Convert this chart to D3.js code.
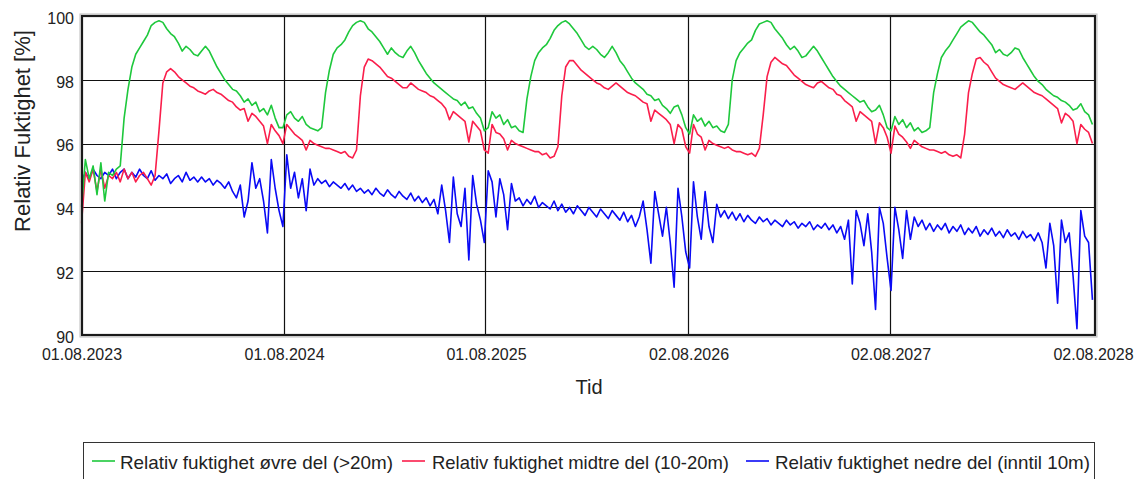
<!DOCTYPE html>
<html>
<head>
<meta charset="utf-8">
<script src="https://cdn.jsdelivr.net/npm/d3@7"></script>
<style>
body { margin: 0; background: #fff; }
text { font-family: "Liberation Sans", Arial, sans-serif; fill: #222; }
</style>
</head>
<body>
<div id="chart"></div>
<script>
// weekly readings from 01.08.2023
var startDate = "2023-08-01", stepDays = 7;

var green = [
  94.0,95.5,94.9,95.3,94.4,95.4,94.2,95.1,95.0,95.2,95.3,96.8,97.7,98.4,98.8,99.0,99.2,99.4,99.7,99.8,99.85,99.8,99.6,99.45,99.35,99.15,98.9,99.05,98.95,98.8,98.75,98.9,99.05,98.9,98.65,98.4,98.2,98.0,97.85,97.7,97.65,97.5,97.3,97.4,97.2,97.3,97.0,97.1,96.9,97.2,96.8,96.5,
  96.5,96.9,97.0,96.8,96.7,96.85,96.6,96.5,96.45,96.4,96.5,97.6,98.3,98.8,99.0,99.1,99.25,99.5,99.7,99.8,99.85,99.8,99.6,99.5,99.35,99.2,99.0,98.8,99.0,98.85,98.75,98.7,98.9,99.05,98.85,98.6,98.4,98.2,98.05,97.9,97.8,97.7,97.6,97.5,97.4,97.35,97.2,97.3,97.1,97.15,96.95,96.8,
  96.4,96.5,97.0,96.8,96.9,96.6,96.75,96.5,96.55,96.4,96.35,97.4,98.1,98.6,98.85,99.0,99.1,99.3,99.55,99.7,99.8,99.85,99.75,99.6,99.45,99.25,99.05,98.95,99.05,98.95,98.8,98.7,98.85,99.05,98.85,98.6,98.45,98.25,98.05,97.9,97.8,97.7,97.55,97.5,97.35,97.4,97.2,97.1,96.95,97.15,97.2,96.9,96.5,
  96.3,96.9,96.7,96.8,96.55,96.7,96.5,96.55,96.4,96.35,96.6,98.0,98.6,98.85,99.0,99.15,99.25,99.55,99.75,99.8,99.85,99.8,99.6,99.45,99.3,99.1,98.95,99.05,98.9,98.7,98.75,98.9,99.05,98.9,98.7,98.5,98.3,98.1,97.95,97.8,97.7,97.6,97.5,97.4,97.3,97.35,97.15,97.0,97.05,97.2,96.9,96.5,
  96.4,96.85,96.6,96.75,96.5,96.65,96.4,96.5,96.35,96.4,96.5,97.6,98.2,98.7,98.9,99.05,99.25,99.45,99.65,99.75,99.85,99.8,99.65,99.5,99.4,99.25,99.1,98.85,98.95,98.8,98.75,98.85,99.0,98.95,98.7,98.5,98.3,98.1,97.95,97.85,97.7,97.6,97.5,97.45,97.35,97.3,97.2,97.05,97.1,97.25,97.0,96.9,96.6
];

var red = [
  93.5,95.1,94.8,95.2,94.5,95.2,94.6,95.0,94.9,95.1,94.8,95.2,94.9,95.1,94.8,95.0,95.1,94.9,94.7,95.0,96.4,97.9,98.25,98.35,98.25,98.1,98.0,97.9,97.8,97.75,97.65,97.6,97.55,97.65,97.7,97.6,97.55,97.45,97.35,97.3,97.15,97.05,97.1,96.7,96.95,96.85,96.7,96.55,96.0,96.6,96.4,96.25,
  96.0,96.6,96.45,96.3,96.2,96.1,95.8,96.1,96.0,95.95,95.9,95.85,95.85,95.8,95.75,95.7,95.75,95.6,95.55,95.8,97.5,98.4,98.65,98.6,98.5,98.4,98.25,98.1,98.05,97.95,97.85,97.75,97.75,97.9,97.8,97.7,97.65,97.6,97.5,97.45,97.35,97.25,97.1,96.75,97.0,96.9,96.8,96.7,96.05,96.7,96.55,96.4,
  95.8,95.7,96.6,96.35,96.3,96.15,95.8,96.1,96.0,95.95,95.9,95.85,95.8,95.75,95.75,95.65,95.7,95.55,95.6,95.9,97.5,98.4,98.6,98.6,98.45,98.3,98.2,98.1,98.0,97.9,97.85,97.75,97.7,97.8,97.9,97.8,97.7,97.6,97.55,97.5,97.4,97.3,97.25,96.7,97.05,96.95,96.85,96.75,96.6,96.0,96.6,96.45,95.9,
  95.7,96.6,96.3,96.2,95.8,96.1,96.0,95.95,95.9,95.85,95.9,95.8,95.75,95.75,95.7,95.65,95.7,95.6,95.85,96.9,98.1,98.55,98.7,98.6,98.5,98.45,98.3,98.15,98.05,97.95,97.85,97.8,97.75,97.9,97.95,97.85,97.75,97.7,97.55,97.5,97.35,97.25,97.15,96.7,97.0,96.9,96.8,96.7,96.0,96.65,96.5,96.2,
  95.7,96.55,96.3,96.2,96.05,95.85,96.1,96.0,95.9,95.85,95.8,95.8,95.75,95.7,95.75,95.65,95.6,95.65,95.55,96.3,97.6,98.2,98.65,98.7,98.55,98.45,98.25,98.05,97.95,97.85,97.8,97.75,97.7,97.8,97.9,97.8,97.7,97.6,97.55,97.5,97.4,97.3,97.2,97.1,96.65,96.95,96.85,96.7,96.0,96.6,96.45,96.35,96.0
];

var blue = [
  94.8,95.1,94.9,95.2,95.0,94.9,95.1,95.0,95.2,94.9,95.1,95.2,94.9,95.1,94.95,95.2,95.0,94.9,95.15,94.85,95.0,94.9,95.05,94.75,94.9,95.0,94.8,95.1,94.85,94.95,94.8,94.95,94.8,94.9,94.7,94.85,94.75,94.6,94.8,94.5,94.3,94.7,93.7,94.2,95.4,94.6,94.9,94.2,93.2,95.5,94.6,93.9,
  93.4,95.65,94.6,95.1,94.3,94.9,93.9,95.2,94.7,94.9,94.75,94.85,94.65,94.8,94.7,94.6,94.75,94.55,94.7,94.5,94.6,94.45,94.55,94.4,94.6,94.45,94.35,94.55,94.4,94.3,94.5,94.35,94.25,94.45,94.2,94.35,94.15,94.3,94.05,94.25,93.8,94.7,93.9,92.9,94.95,93.8,93.4,94.6,92.35,95.0,94.1,93.6,
  92.9,95.15,94.8,93.7,94.9,94.4,93.3,94.75,94.2,94.3,94.05,94.25,94.1,94.35,94.0,94.15,94.05,93.95,94.2,93.9,94.1,93.85,94.0,93.8,94.05,93.9,93.75,94.0,93.85,93.7,93.95,93.8,93.65,93.9,93.75,93.6,93.85,93.55,93.75,93.4,93.7,94.2,93.3,92.25,94.5,93.8,93.1,94.0,92.9,91.5,94.6,93.7,92.6,
  92.1,94.8,93.7,93.0,94.5,93.4,92.9,94.1,93.7,93.9,93.65,93.85,93.6,93.8,93.55,93.75,93.6,93.5,93.7,93.55,93.65,93.45,93.6,93.5,93.4,93.6,93.45,93.55,93.35,93.5,93.4,93.55,93.3,93.45,93.35,93.5,93.3,93.45,93.2,93.4,93.0,93.6,91.6,93.9,93.5,92.8,93.8,92.6,90.8,94.0,93.5,92.4,
  91.4,94.0,93.3,92.4,93.9,93.0,93.7,93.4,93.6,93.3,93.5,93.25,93.45,93.3,93.5,93.2,93.4,93.25,93.45,93.15,93.35,93.2,93.4,93.1,93.3,93.15,93.35,93.1,93.25,93.05,93.3,93.1,93.2,93.0,93.25,93.05,93.15,92.95,93.2,92.9,92.1,93.5,92.8,91.0,93.6,92.9,93.2,91.85,90.2,93.9,93.1,92.9,91.1
];

var tickDates = ["2023-08-01", "2024-08-01", "2025-08-01", "2026-08-02", "2027-08-02", "2028-08-02"];
var tickLabels = ["01.08.2023", "01.08.2024", "01.08.2025", "02.08.2026", "02.08.2027", "02.08.2028"];
var yTicks = [90, 92, 94, 96, 98, 100];

var seriesNames = ["Relativ fuktighet øvre del (>20m)", "Relativ fuktighet midtre del (10-20m)", "Relativ fuktighet nedre del (inntil 10m)"];
var seriesColors = ["#1ec83c", "#fa1e4b", "#0a0af5"];

var svgWidth = 1142, svgHeight = 479;
var plotLeft = 82, plotRight = 1095, plotTop = 16, plotBottom = 335;

var parse = d3.utcParse("%Y-%m-%d");
var t0 = parse(startDate);
function dateAt(i) { return d3.utcDay.offset(t0, i * stepDays); }

var x = d3.scaleUtc()
    .domain([parse("2023-08-01"), parse("2028-08-02")])
    .range([81.5, 1093]);
var y = d3.scaleLinear().domain([90, 100]).range([plotBottom, plotTop]);

var svg = d3.select('#chart').append('svg')
    .attr('width', svgWidth)
    .attr('height', svgHeight)
    .style('background', 'white');

// grid
svg.append('g').selectAll('line').data(yTicks.slice(1, -1)).enter().append('line')
    .attr('x1', plotLeft).attr('x2', plotRight)
    .attr('y1', function(d) { return Math.round(y(d)) + 0.5; })
    .attr('y2', function(d) { return Math.round(y(d)) + 0.5; })
    .attr('stroke', '#111').attr('stroke-width', 1.2);

svg.append('g').selectAll('line').data(tickDates.slice(1, -1)).enter().append('line')
    .attr('y1', plotTop).attr('y2', plotBottom)
    .attr('x1', function(d) { return Math.floor(x(parse(d))) + 0.5; })
    .attr('x2', function(d) { return Math.floor(x(parse(d))) + 0.5; })
    .attr('stroke', '#111').attr('stroke-width', 1.2);

// series, blue at the bottom, green on top
var line = d3.line()
    .x(function(d, i) { return x(dateAt(i)); })
    .y(function(d) { return y(d); });

var drawOrder = [[blue, 2], [red, 1], [green, 0]];
drawOrder.forEach(function(s) {
    svg.append('path')
        .attr('d', line(s[0]))
        .attr('fill', 'none')
        .attr('stroke', seriesColors[s[1]])
        .attr('stroke-width', 1.6)
        .attr('stroke-linejoin', 'round');
});

// frame
svg.append('rect')
    .attr('x', plotLeft - 2).attr('y', plotTop - 2)
    .attr('width', plotRight - plotLeft + 4).attr('height', plotBottom - plotTop + 4)
    .attr('fill', 'none').attr('stroke', '#bbb').attr('stroke-width', 1);
svg.append('rect')
    .attr('x', plotLeft).attr('y', plotTop)
    .attr('width', plotRight - plotLeft).attr('height', plotBottom - plotTop)
    .attr('fill', 'none').attr('stroke', '#1a1a1a').attr('stroke-width', 2.2);

// axes
var yAxis = svg.append('g')
    .attr('transform', 'translate(' + plotLeft + ',0)')
    .call(d3.axisLeft(y).tickValues(yTicks).tickSize(0).tickPadding(8).tickFormat(d3.format('d')));
yAxis.select('.domain').remove();
yAxis.selectAll('text').attr('font-size', '16px').attr('dy', '0.45em')
    .style('font-family', '"Liberation Sans", Arial, sans-serif').attr('fill', '#222');

var xAxis = svg.append('g')
    .attr('transform', 'translate(0,' + plotBottom + ')')
    .call(d3.axisBottom(x).tickValues(tickDates.map(parse)).tickSize(0).tickPadding(14)
        .tickFormat(function(d, i) { return tickLabels[i]; }));
xAxis.select('.domain').remove();
xAxis.selectAll('text').attr('font-size', '16px')
    .style('font-family', '"Liberation Sans", Arial, sans-serif').attr('fill', '#222');

// axis titles
svg.append('text')
    .text('Relativ Fuktighet [%]')
    .attr('transform', 'translate(30,131) rotate(-90)')
    .attr('text-anchor', 'middle')
    .attr('font-size', '22px');

svg.append('text')
    .text('Tid')
    .attr('x', 589).attr('y', 394)
    .attr('text-anchor', 'middle')
    .attr('font-size', '20px');

// legend
svg.append('rect')
    .attr('x', 83.5).attr('y', 442.5)
    .attr('width', 1011).attr('height', 60)
    .attr('fill', 'white').attr('stroke', '#333').attr('stroke-width', 1);

var legendX = [92, 402, 746];
var legendTextX = [120, 432, 775];
var legendTextW = [273, 297, 315];
seriesNames.forEach(function(name, i) {
    svg.append('line')
        .attr('x1', legendX[i]).attr('x2', legendX[i] + 23)
        .attr('y1', 461).attr('y2', 461)
        .attr('stroke', seriesColors[i]).attr('stroke-width', 1.6);
    svg.append('text')
        .text(name)
        .attr('x', legendTextX[i]).attr('y', 469)
        .attr('font-size', '19px')
        .attr('textLength', legendTextW[i])
        .attr('lengthAdjust', 'spacingAndGlyphs');
});
</script>
</body>
</html>
